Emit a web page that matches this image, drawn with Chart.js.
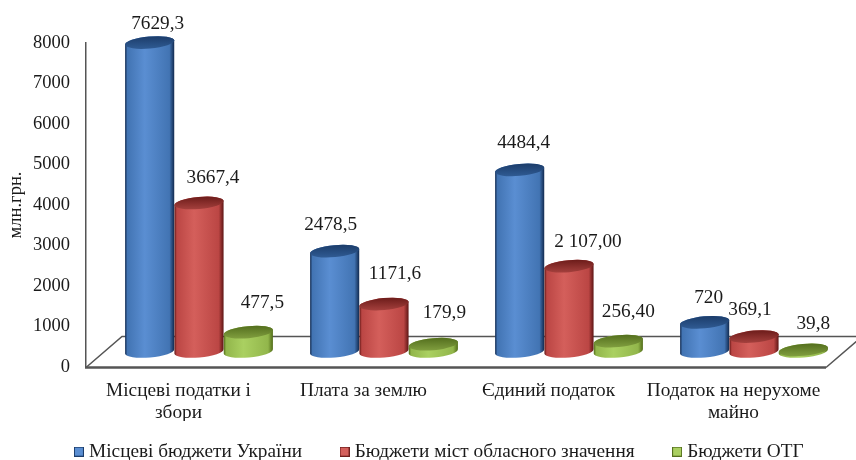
<!DOCTYPE html>
<html lang="uk">
<head>
  <meta charset="UTF-8">
  <title>Податки місцевих бюджетів</title>
  <script src="https://cdn.jsdelivr.net/npm/chart.js"></script>
  <style>
    html, body { margin: 0; padding: 0; background: #fff; }
    #wrap { width: 856px; height: 460px; }
  </style>
</head>
<body>
  <div id="wrap"><canvas id="myChart"></canvas></div>

  <script>
    const categories = [['Місцеві податки і', 'збори'], 'Плата за землю', 'Єдиний податок', ['Податок на нерухоме', 'майно']];
    const seriesNames = ['Місцеві бюджети України', 'Бюджети міст обласного значення', 'Бюджети ОТГ'];
    const localBudgets = [7629.3, 2478.5, 4484.4, 720];
    const cityBudgets = [3667.4, 1171.6, 2107, 369.1];
    const otgBudgets = [477.5, 179.9, 256.4, 39.8];

    // підписи як на оригіналі (різна кількість знаків)
    const localLabels = ['7629,3', '2478,5', '4484,4', '720'];
    const cityLabels = ['3667,4', '1171,6', '2 107,00', '369,1'];
    const otgLabels = ['477,5', '179,9', '256,40', '39,8'];
    const valueLabels = [localLabels, cityLabels, otgLabels];

    // зсув підписів відносно верху циліндра
    const labelShift = [
      [[8, -19], [-4, -26], [4, -27], [4, -24]],
      [[14, -25], [11, -30], [19, -24], [-4, -27]],
      [[14, -29], [11, -31], [10, -29], [10, -26]]
    ];

    const palette = [
      { base: '#4f81bd', dark: '#10284d', mid: '#4274b3', light: '#5a8ed2', top: '#2f5a92', rim: '#1c3d6b' },
      { base: '#c0504d', dark: '#5c1413', mid: '#bb4644', light: '#d45f5b', top: '#a33f3c', rim: '#6e1d1b' },
      { base: '#9bbb59', dark: '#4f6a16', mid: '#92b64b', light: '#aad061', top: '#7f9d3e', rim: '#55701f' }
    ];

    const FONT = '"Liberation Serif", "Times New Roman", serif';
    const INK = '#1a1a1a';
    const AXIS = '#555555';

    // псевдо-3D: циліндри зсунуті на "підлогу"
    const depthX = 36, depthY = 31;
    const shiftX = 20.5, shiftY = -15.5;
    const ellipseH = 6, tilt = -0.09;

    function drawCylinder(ctx, bar, col) {
      const cx = bar.x + shiftX;
      const rx = bar.width / 2;
      const topY = bar.y + shiftY;
      const baseY = bar.base + shiftY;

      const grad = ctx.createLinearGradient(cx - rx, 0, cx + rx, 0);
      grad.addColorStop(0, col.dark);
      grad.addColorStop(0.05, col.mid);
      grad.addColorStop(0.4, col.light);
      grad.addColorStop(0.9, col.mid);
      grad.addColorStop(1, col.dark);

      ctx.beginPath();
      ctx.ellipse(cx, baseY, rx, ellipseH, tilt, 0, Math.PI);
      ctx.ellipse(cx, topY, rx, ellipseH, tilt, Math.PI, Math.PI * 2);
      ctx.closePath();
      ctx.fillStyle = grad;
      ctx.fill();

      const capGrad = ctx.createLinearGradient(0, topY - ellipseH, 0, topY + ellipseH);
      capGrad.addColorStop(0, col.rim);
      capGrad.addColorStop(1, col.top);
      ctx.beginPath();
      ctx.ellipse(cx, topY, rx, ellipseH, tilt, 0, Math.PI * 2);
      ctx.fillStyle = capGrad;
      ctx.fill();
    }

    // маленькі квадрати легенди з темною рамкою
    function makeMarker(col) {
      const c = document.createElement('canvas');
      c.width = 10;
      c.height = 10;
      const g = c.getContext('2d');
      g.fillStyle = col.rim;
      g.fillRect(0, 0, 10, 10);
      g.fillStyle = col.light;
      g.fillRect(1, 1, 8, 8);
      return c;
    }
    const markers = palette.map(makeMarker);

    const cylinderPlugin = {
      id: 'cylinders',
      beforeLayout(chart) {
        // легенда з великим відступом не повинна стискати область графіка
        const legend = chart.legend;
        if (!legend.fitWrapped) {
          const fit = legend.fit;
          legend.fit = function () { fit.call(this); this.height = 39; };
          legend.fitWrapped = true;
        }
      },
      afterLayout(chart) {
        chart.legend.left += 28;
        chart.legend.right += 28;
        chart.legend.top = 400;
      },
      beforeDatasetsDraw(chart) {
        const ctx = chart.ctx;
        const a = chart.chartArea;
        const floorY = a.bottom + 0.5;
        ctx.save();
        ctx.strokeStyle = AXIS;
        ctx.lineWidth = 1.5;
        ctx.beginPath();
        ctx.moveTo(a.left, floorY);
        ctx.lineTo(a.left + depthX, floorY - depthY);
        ctx.lineTo(a.right + depthX, floorY - depthY);
        ctx.lineTo(a.right, floorY);
        ctx.stroke();
        ctx.lineWidth = 2.5;
        ctx.beginPath();
        ctx.moveTo(a.left - 1, floorY);
        ctx.lineTo(a.right, floorY);
        ctx.stroke();
        ctx.restore();
      },
      beforeDatasetDraw() {
        return false; // прямокутні стовпчики замінюємо циліндрами
      },
      afterDatasetsDraw(chart) {
        const ctx = chart.ctx;
        ctx.save();
        chart.data.datasets.forEach((ds, i) => {
          chart.getDatasetMeta(i).data.forEach(bar => drawCylinder(ctx, bar, palette[i]));
        });
        ctx.font = '19.3px ' + FONT;
        ctx.fillStyle = INK;
        ctx.textAlign = 'center';
        ctx.textBaseline = 'middle';
        chart.data.datasets.forEach((ds, i) => {
          chart.getDatasetMeta(i).data.forEach((bar, j) => {
            const s = labelShift[i][j];
            ctx.fillText(valueLabels[i][j], bar.x + shiftX + s[0], bar.y + shiftY + s[1]);
          });
        });
        ctx.restore();
      }
    };

    Chart.defaults.font.family = FONT;
    Chart.defaults.color = INK;

    new Chart(document.getElementById('myChart'), {
      type: 'bar',
      data: {
        labels: categories,
        datasets: [
          { label: seriesNames[0], data: localBudgets, backgroundColor: palette[0].base, borderColor: palette[0].rim, borderWidth: 1 },
          { label: seriesNames[1], data: cityBudgets, backgroundColor: palette[1].base, borderColor: palette[1].rim, borderWidth: 1 },
          { label: seriesNames[2], data: otgBudgets, backgroundColor: palette[2].base, borderColor: palette[2].rim, borderWidth: 1 }
        ]
      },
      plugins: [cylinderPlugin],
      options: {
        responsive: true,
        maintainAspectRatio: false,
        animation: false,
        layout: { padding: { top: 43, right: 30, left: 0, bottom: 0 } },
        datasets: { bar: { categoryPercentage: 0.8, barPercentage: 1 } },
        plugins: {
          tooltip: { enabled: false },
          legend: {
            position: 'bottom',
            labels: {
              usePointStyle: true,
              pointStyleWidth: 1,
              boxHeight: 10,
              padding: 42,
              color: INK,
              font: { size: 19.3, family: FONT },
              generateLabels(chart) {
                return Chart.defaults.plugins.legend.labels.generateLabels(chart)
                  .map((item, i) => ({ ...item, pointStyle: markers[i] }));
              }
            }
          }
        },
        scales: {
          x: {
            grid: { display: false, drawTicks: false },
            border: { display: false },
            afterFit(axis) { axis.height = 54; },
            ticks: {
              padding: 13,
              maxRotation: 0,
              autoSkip: false,
              color: INK,
              font: { size: 19.3, family: FONT, lineHeight: 1.15 }
            }
          },
          y: {
            min: 0,
            max: 8000,
            grid: { display: false, drawTicks: false },
            border: { display: true, color: AXIS, width: 1.5 },
            afterFit(axis) { axis.width = 86; },
            title: {
              display: true,
              text: 'млн.грн.',
              color: INK,
              padding: { top: 5, bottom: 0 },
              font: { size: 18.5, family: FONT }
            },
            ticks: {
              stepSize: 1000,
              padding: 16,
              color: INK,
              font: { size: 18.5, family: FONT },
              callback: value => String(value)
            }
          }
        }
      }
    });
  </script>
</body>
</html>
